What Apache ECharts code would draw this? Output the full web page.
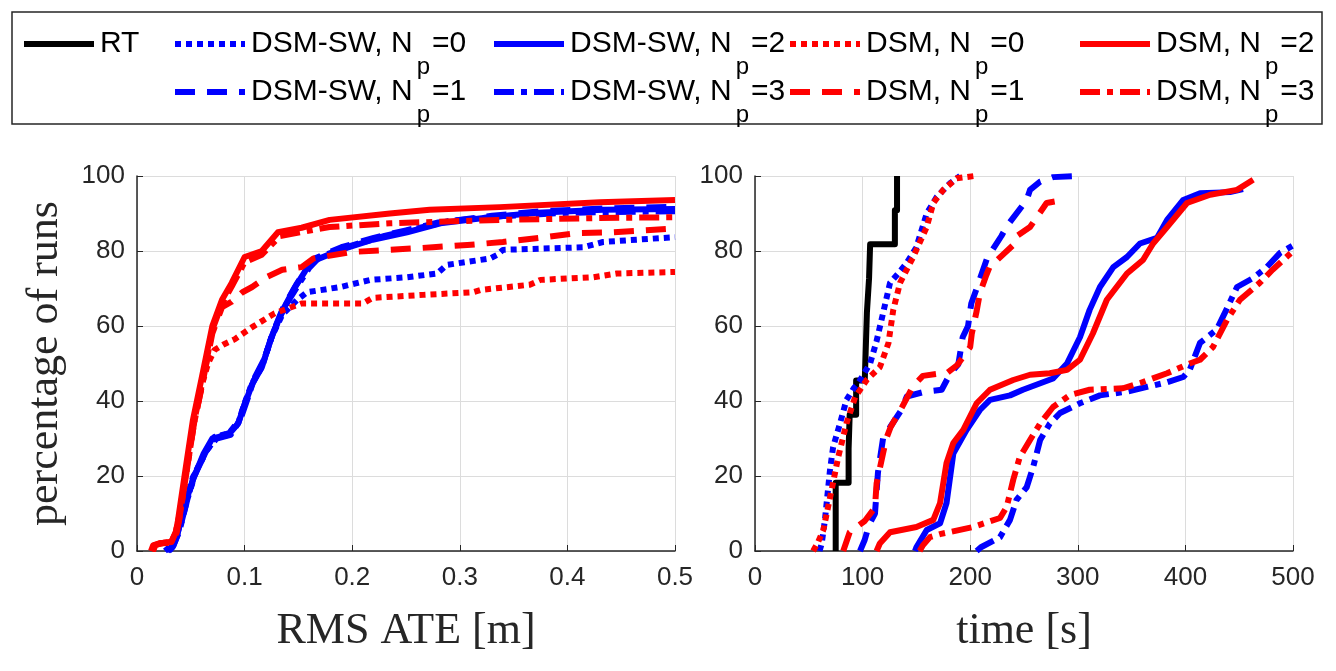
<!DOCTYPE html>
<html><head><meta charset="utf-8">
<script src="https://cdn.jsdelivr.net/npm/echarts@6/dist/echarts.min.js"></script>
<style>html,body{margin:0;padding:0;background:#fff}#c{width:1336px;height:671px}</style>
</head><body><div id="c"></div>
<script>
// ---------- data ----------
const methods = ['DSM-SW', 'DSM'];
const npValues = [0, 1, 2, 3];
const ateTicks = [0, 0.1, 0.2, 0.3, 0.4, 0.5];
const timeTicks = [0, 100, 200, 300, 400, 500];
const pctTicks = [0, 20, 40, 60, 80, 100];

// Left panel: cumulative % of runs vs RMS ATE [m]
const ateSw0 = [[0.026,0],[0.03,1],[0.038,5],[0.045,12.8],[0.052,19.7],[0.063,26],[0.072,30.4],[0.085,31.4],[0.094,34],[0.1,39.4],[0.107,44.8],[0.116,49],[0.125,57],[0.135,63],[0.149,67],[0.158,69],[0.189,70.4],[0.217,72.3],[0.251,73],[0.279,74],[0.288,76.3],[0.328,78],[0.335,79],[0.34,80.3],[0.415,81],[0.433,82.4],[0.5,83.7]];
const ateSw1 = [[0.029,0],[0.033,1],[0.039,5],[0.046,13],[0.053,20],[0.064,26.5],[0.073,30],[0.086,31.5],[0.095,35],[0.101,40],[0.108,45],[0.117,50],[0.126,58],[0.136,65],[0.148,71],[0.157,75],[0.165,78],[0.19,81],[0.22,83.5],[0.25,85.5],[0.28,87.6],[0.33,89.4],[0.375,90.6],[0.44,91.4],[0.5,91.8]];
const ateSw2 = [[0.028,0],[0.032,1],[0.038,5],[0.044,12],[0.052,19],[0.062,26],[0.07,30],[0.085,31],[0.094,34],[0.1,39],[0.107,44.5],[0.116,49],[0.125,57],[0.135,64],[0.147,70.4],[0.156,74.5],[0.161,77],[0.189,80.3],[0.219,83],[0.251,85],[0.282,87.4],[0.328,89],[0.372,90.2],[0.433,91],[0.5,91.2]];
const ateSw3 = [[0.03,0],[0.034,1.5],[0.04,6],[0.047,14],[0.054,20.5],[0.065,27],[0.074,30],[0.087,31],[0.096,35],[0.102,40],[0.109,46],[0.118,51],[0.127,58.5],[0.137,65],[0.15,71],[0.16,75.5],[0.17,78.5],[0.2,81.5],[0.23,84],[0.26,86],[0.29,88],[0.34,89.3],[0.4,90.2],[0.5,90.6]];
const ateDsm0 = [[0.014,0],[0.016,1.5],[0.021,2],[0.032,2.4],[0.036,5],[0.039,9],[0.045,20],[0.052,33],[0.06,44],[0.066,50],[0.072,53.6],[0.08,55],[0.091,56.5],[0.107,59.7],[0.128,63.4],[0.153,66],[0.21,66],[0.219,67.5],[0.266,68.3],[0.312,69],[0.319,69.6],[0.365,71],[0.375,72.3],[0.424,73],[0.446,74],[0.5,74.4]];
const ateDsm1 = [[0.015,0],[0.017,1.5],[0.022,2],[0.033,2.3],[0.037,5],[0.039,8],[0.046,21],[0.053,34],[0.061,45],[0.07,58],[0.079,65],[0.088,66.5],[0.098,69],[0.107,70.4],[0.12,73],[0.135,75],[0.153,75.7],[0.164,78],[0.198,79.7],[0.235,80.3],[0.275,81],[0.307,81.6],[0.34,82.4],[0.374,83.5],[0.409,84.8],[0.442,85],[0.477,85.6],[0.5,86]];
const ateDsm2 = [[0.013,0],[0.015,1.5],[0.02,2],[0.032,2.5],[0.036,5],[0.038,8],[0.045,21.6],[0.052,35],[0.06,46],[0.07,60],[0.079,67],[0.088,71.5],[0.1,78.4],[0.116,80],[0.131,85],[0.153,86.2],[0.179,88.3],[0.235,90],[0.272,91],[0.337,91.7],[0.43,93],[0.5,93.6]];
const ateDsm3 = [[0.014,0],[0.016,1.5],[0.021,2],[0.032,2.5],[0.036,5],[0.039,8],[0.046,21],[0.053,34],[0.061,45],[0.07,59],[0.079,66],[0.088,70.5],[0.1,77],[0.116,79],[0.133,84],[0.179,86.4],[0.235,87.4],[0.337,88.3],[0.43,88.8],[0.5,89]];

// Right panel: cumulative % of runs vs time [s]
const timeRt = [[75,0],[75,18.18],[87,18.18],[87,27.3],[88,27.3],[88,36.36],[94,36.36],[94,45.45],[102,45.45],[103,54.5],[104,63.6],[106,72.7],[107,81.8],[130,81.8],[130,90.9],[132,90.9],[132,100]];
const timeSw0 = [[60,0],[62,2],[65,8.3],[69.7,21.6],[72.6,27.7],[79,34],[85,40.3],[92,43.5],[96,44.8],[107,50],[113,56],[119,63.4],[125.5,71.5],[133,74],[141,76.8],[150,81],[159.6,90],[168.8,94.4],[181,98],[190.5,100]];
const timeSw1 = [[97.6,0],[102,3],[106,7],[111.5,10],[114.3,21],[119,30],[125.5,33],[136,37.6],[141,41.2],[158,42.5],[173.5,43],[181,47.1],[189,49.8],[193,57],[198,60],[201,66],[206,70],[212,75],[215.6,78],[229,84],[234,86.6],[252.5,93.6],[255.6,96.3],[265,98.5],[277,99.7],[299,100]];
const timeSw2 = [[148.7,0],[150,1],[159.6,5.6],[172,7.4],[178,12.8],[184.3,26],[196.7,32.3],[209,37.6],[218.4,40.3],[237,41.5],[249,43],[277,46],[290,50],[302,57],[311,64.3],[320.6,70.4],[333,75.7],[345.7,78.4],[357.8,82],[373.6,83.5],[383,88.3],[398,93.6],[413.6,95.4],[441.4,95.7],[453.5,96.5]];
const timeSw3 = [[206,0],[210,1],[227.7,3.7],[237,8.3],[243,13.6],[252.5,17],[258.5,22.4],[265,29.6],[274,34],[283.5,36.8],[302,39.4],[320.6,41.5],[345.7,42.5],[383,45],[398,46.4],[404,48.3],[413.6,55.5],[429,59],[438,64.3],[448,70.4],[463,72.8],[475.6,75.7],[488,79.5],[500,81.5]];
const timeDsm0 = [[54,0],[58,2],[63.5,5.6],[71.2,16.3],[77.3,25],[85,34],[93,41],[103.8,45.6],[116,49],[124,55.4],[128.5,64.3],[134.8,71.5],[147,78.4],[159.6,86.4],[165.7,92.8],[175,96.3],[187.5,99.4],[204,100]];
const timeDsm1 = [[82,0],[88,5],[102,8],[111.5,11.6],[113,18],[116,22],[122,30],[126,33],[136,38],[147,44],[156,46.7],[179,47.6],[188,49.6],[200,54.4],[201.5,58],[206,64],[209,68.8],[215,73.6],[218,75.7],[240,81.6],[243.5,84],[255.6,86.4],[271,92.8],[286.5,93.6]];
const timeDsm2 = [[113,0],[116,2],[125.5,5],[150,6.4],[165.7,8.3],[172,12.8],[178,23.5],[184.3,28.8],[193.6,32.3],[206,39.4],[218.4,43],[240,45.6],[255.6,47],[274,47.4],[290,48.3],[302,51],[314,58],[327,67],[345.7,74],[360.6,77.6],[370,82],[383,86.4],[401.5,92.8],[423,95],[448,96.3],[463,99]];
const timeDsm3 = [[153,0],[156,1.5],[162.6,3.7],[172,4.5],[202.7,6.4],[227.7,8.8],[234,11.8],[240,19],[246,25],[255.6,29.6],[265,34],[277,38.4],[292.7,41.6],[311,43],[342,43.4],[358,44.8],[383,47.4],[404,50],[413.6,51],[425.6,54.4],[438.6,61.6],[450.7,67],[469,71.5],[481,75],[500,80]];

// ---------- styles ----------
const BLUE = '#0000ff', RED = '#ff0000', BLACK = '#000000', AX = '#262626';
const dashOf = [[6,5],[20,12],'solid',[20,7,6,7]]; // Np = 0,1,2,3
const LW = 6;

const chart = echarts.init(document.getElementById('c'), null, {renderer:'canvas'});

function mkSeries(name, data, color, dash, idx){
  return {name, type:'line', data, xAxisIndex:idx, yAxisIndex:idx, showSymbol:false, symbol:'none',
    clip:true, animation:false, lineStyle:{color, width:LW, type:dash, cap:'butt', join:'round'}};
}
const lbl = (m,np) => m + ', Np=' + np;
const series = [];
const ateSets = [[ateSw0,ateSw1,ateSw2,ateSw3],[ateDsm0,ateDsm1,ateDsm2,ateDsm3]];
const timeSets = [[timeSw0,timeSw1,timeSw2,timeSw3],[timeDsm0,timeDsm1,timeDsm2,timeDsm3]];
const colors = [BLUE, RED];
series.push(mkSeries('RT', timeRt, BLACK, 'solid', 1));
methods.forEach((m,mi)=>npValues.forEach((np,ni)=>{
  series.push(mkSeries(lbl(m,np), ateSets[mi][ni], colors[mi], dashOf[ni], 0));
  series.push(mkSeries(lbl(m,np), timeSets[mi][ni], colors[mi], dashOf[ni], 1));
}));

function xAx(idx, ticks, name){
  return {type:'value', gridIndex:idx, min:ticks[0], max:ticks[ticks.length-1], interval:ticks[1]-ticks[0],
    name, nameLocation:'middle', nameGap:58,
    nameTextStyle:{fontFamily:'Liberation Serif', fontSize:44, color:AX},
    axisLine:{show:true, onZero:false, lineStyle:{color:AX, width:1.5}},
    axisTick:{show:true, inside:true, length:6, lineStyle:{color:AX}},
    axisLabel:{fontFamily:'Liberation Sans', fontSize:26, color:AX, margin:14},
    splitLine:{show:true, lineStyle:{color:'#dcdcdc', width:1}}};
}
function yAx(idx, name){
  return {type:'value', gridIndex:idx, min:pctTicks[0], max:pctTicks[pctTicks.length-1], interval:pctTicks[1]-pctTicks[0],
    name, nameLocation:'middle', nameGap:70, nameRotate:90,
    nameTextStyle:{fontFamily:'Liberation Serif', fontSize:44, color:AX},
    axisLine:{show:true, lineStyle:{color:AX, width:1.5}},
    axisTick:{show:true, inside:true, length:6, lineStyle:{color:AX}},
    axisLabel:{fontFamily:'Liberation Sans', fontSize:26, color:AX, margin:12},
    splitLine:{show:true, lineStyle:{color:'#dcdcdc', width:1}}};
}

// ---------- legend (drawn as graphic) ----------
const cv = document.createElement('canvas').getContext('2d');
function tw(t, size){ cv.font = size + 'px "Liberation Sans"'; return cv.measureText(t).width; }
const legendEntries = [{t:'RT', color:BLACK, dash:'solid', col:0, row:0}];
methods.forEach((m,mi)=>npValues.forEach((np,ni)=>{
  legendEntries.push({m, np, color:colors[mi], dash:dashOf[ni], col: 1 + mi*2 + (ni>=2?1:0), row: ni%2});
}));
const colX = [24, 175, 494, 790, 1080];
const rowY = [44, 92];
const LEN = 70, FS = 30, SFS = 24;
const graphics = [{type:'rect', shape:{x:12, y:12, width:1310, height:112}, style:{fill:'#fff', stroke:AX, lineWidth:1.5}, z:-1}];
legendEntries.forEach(e=>{
  const x0 = colX[e.col], y = rowY[e.row];
  const ld = e.dash==='solid' ? null : e.dash;
  graphics.push({type:'line', shape:{x1:x0, y1:y, x2:x0+LEN, y2:y}, style:{stroke:e.color, lineWidth:LW, lineDash:ld, lineCap:'butt'}});
  let tx = x0 + LEN + 6;
  const fnt = (s)=>({fontFamily:'Liberation Sans', fontSize:s, fill:'#000'});
  if (e.t){
    graphics.push({type:'text', x:tx, y:y, style:Object.assign({text:e.t, verticalAlign:'middle', align:'left'}, fnt(FS))});
  } else {
    const a = e.m + ', N';
    graphics.push({type:'text', x:tx, y:y, style:Object.assign({text:a, verticalAlign:'middle', align:'left'}, fnt(FS))});
    tx += tw(a, FS) + 4;
    graphics.push({type:'text', x:tx, y:y+23, style:Object.assign({text:'p', verticalAlign:'middle', align:'left'}, fnt(SFS))});
    tx += tw('p', SFS) + 2;
    graphics.push({type:'text', x:tx, y:y, style:Object.assign({text:'=' + e.np, verticalAlign:'middle', align:'left'}, fnt(FS))});
  }
});

chart.setOption({
  animation:false,
  backgroundColor:'#fff',
  grid:[{left:137, top:176, width:538, height:375}, {left:755, top:176, width:538, height:375}],
  xAxis:[xAx(0, ateTicks, 'RMS ATE [m]'), xAx(1, timeTicks, 'time [s]')],
  yAxis:[yAx(0, 'percentage of runs'), yAx(1, '')],
  series,
  graphic:graphics
});
</script></body></html>
